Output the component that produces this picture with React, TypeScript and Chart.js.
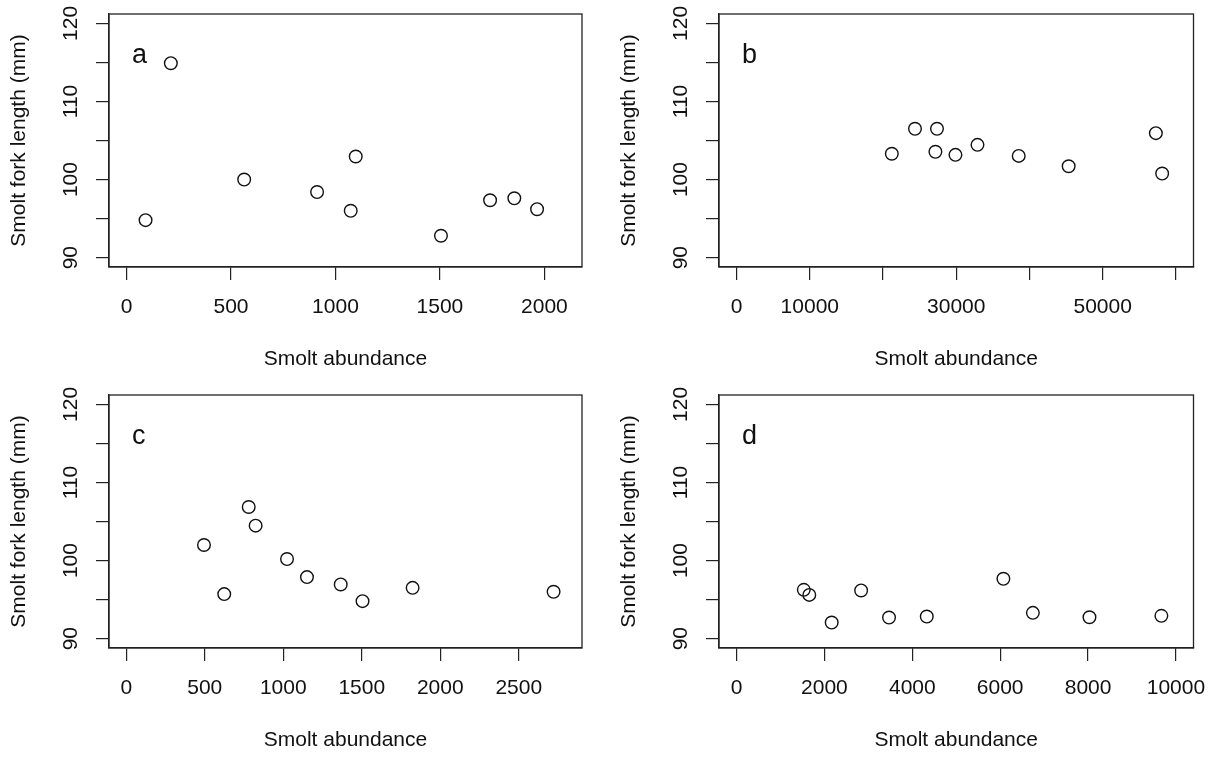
import React, { useEffect, useRef } from "react";
import { Chart, registerables } from "chart.js";

Chart.register(...registerables);

// ---- Data ----
const abundanceA = [91, 212, 563, 912, 1073, 1097, 1505, 1740, 1856, 1965];
const lengthA = [94.8, 114.9, 100.0, 98.4, 96.0, 102.95, 92.8, 97.35, 97.6, 96.2];

const abundanceB = [21200, 24365, 27370, 27155, 29890, 32900, 38530, 45350, 57260, 58120];
const lengthB = [103.3, 106.5, 106.5, 103.55, 103.16, 104.44, 103.03, 101.7, 105.94, 100.77];

const abundanceC = [495, 624, 780, 824, 1024, 1151, 1366, 1505, 1824, 2722];
const lengthC = [101.99, 95.7, 106.86, 104.47, 100.19, 97.88, 96.94, 94.8, 96.5, 96.0];

const abundanceD = [1530, 1655, 2165, 2835, 3470, 4329, 6073, 6744, 8032, 9669];
const lengthD = [96.25, 95.6, 92.06, 96.17, 92.7, 92.83, 97.66, 93.3, 92.74, 92.92];

const xTicksA = [0, 500, 1000, 1500, 2000];
const xTickLabelsA = ["0", "500", "1000", "1500", "2000"];
const xTicksB = [0, 10000, 20000, 30000, 40000, 50000, 60000];
const xTickLabelsB = ["0", "10000", "", "30000", "", "50000", ""];
const xTicksC = [0, 500, 1000, 1500, 2000, 2500];
const xTickLabelsC = ["0", "500", "1000", "1500", "2000", "2500"];
const xTicksD = [0, 2000, 4000, 6000, 8000, 10000];
const xTickLabelsD = ["0", "2000", "4000", "6000", "8000", "10000"];

const yTicks = [90, 95, 100, 105, 110, 115, 120];
const yTickLabels = [90, 100, 110, 120];

const panelLetters = ["a", "b", "c", "d"];
const xTitle = "Smolt abundance";
const yTitle = "Smolt fork length (mm)";

const FONT = "'Liberation Sans', Arial, Helvetica, sans-serif";
const INK = "#111";
const BOX = "#222";

type Panel = {
  letter: string;
  xs: number[];
  ys: number[];
  xMin: number;
  xMax: number;
  xTicks: number[];
  xLabels: string[];
  left: number;
  top: number;
  width: number;
  height: number;
  padTop: number;
  padRight: number;
};

const panels: Panel[] = [
  { letter: panelLetters[0], xs: abundanceA, ys: lengthA, xMin: -84, xMax: 2180, xTicks: xTicksA, xLabels: xTickLabelsA, left: 0, top: 0, width: 607, height: 380, padTop: 14, padRight: 25 },
  { letter: panelLetters[1], xs: abundanceB, ys: lengthB, xMin: -2400, xMax: 62400, xTicks: xTicksB, xLabels: xTickLabelsB, left: 610, top: 0, width: 605, height: 380, padTop: 14, padRight: 21.5 },
  { letter: panelLetters[2], xs: abundanceC, ys: lengthC, xMin: -110, xMax: 2903, xTicks: xTicksC, xLabels: xTickLabelsC, left: 0, top: 380, width: 607, height: 381, padTop: 15, padRight: 25 },
  { letter: panelLetters[3], xs: abundanceD, ys: lengthD, xMin: -400, xMax: 10400, xTicks: xTicksD, xLabels: xTickLabelsD, left: 610, top: 380, width: 605, height: 381, padTop: 15, padRight: 21.5 },
];

function PanelChart({ p }: { p: Panel }) {
  const ref = useRef<HTMLCanvasElement | null>(null);
  useEffect(() => {
    if (!ref.current) return;
    const decor = {
      id: "rdecor",
      afterDraw(chart: any) {
        const { ctx, chartArea } = chart;
        const ys = chart.scales.y;
        ctx.save();
        ctx.strokeStyle = BOX;
        ctx.lineWidth = 1.3;
        ctx.strokeRect(chartArea.left, chartArea.top, chartArea.right - chartArea.left, chartArea.bottom - chartArea.top);
        ctx.fillStyle = INK;
        ctx.font = `21px ${FONT}`;
        ctx.textAlign = "center";
        ctx.textBaseline = "middle";
        for (const v of yTickLabels) {
          const y = ys.getPixelForValue(v);
          ctx.save();
          ctx.translate(chartArea.left - 38, y);
          ctx.rotate(-Math.PI / 2);
          ctx.fillText(String(v), 0, 0);
          ctx.restore();
        }
        ctx.font = `27px ${FONT}`;
        ctx.textAlign = "left";
        ctx.textBaseline = "alphabetic";
        ctx.fillText(p.letter, chartArea.left + 23, chartArea.top + 49);
        ctx.restore();
      },
    };
    const chart = new Chart(ref.current, {
      type: "scatter",
      data: {
        datasets: [
          {
            data: p.xs.map((x, i) => ({ x, y: p.ys[i] })),
            pointStyle: "circle",
            pointRadius: 6.3,
            pointHoverRadius: 6.3,
            borderWidth: 1.4,
            borderColor: INK,
            backgroundColor: "rgba(0,0,0,0)",
          },
        ],
      },
      options: {
        animation: false,
        responsive: false,
        events: [],
        layout: { padding: { left: 0, top: p.padTop, right: p.padRight, bottom: 0 } },
        plugins: { legend: { display: false }, tooltip: { enabled: false }, title: { display: false } },
        scales: {
          x: {
            type: "linear",
            min: p.xMin,
            max: p.xMax,
            afterBuildTicks: (s: any) => {
              s.ticks = p.xTicks.map((v) => ({ value: v }));
            },
            afterFit: (s: any) => {
              s.height = 113;
              s.paddingLeft = 0;
              s.paddingRight = 0;
            },
            ticks: {
              autoSkip: false,
              maxRotation: 0,
              minRotation: 0,
              padding: 15,
              color: INK,
              font: { family: FONT, size: 21 },
              callback: (v: any) => {
                const i = p.xTicks.indexOf(Number(v));
                return i >= 0 ? p.xLabels[i] : "";
              },
            },
            grid: { display: true, drawOnChartArea: false, drawTicks: true, tickLength: 13, color: BOX, lineWidth: 1.2 },
            border: { display: true, color: BOX, width: 1.3 },
            title: { display: true, text: xTitle, color: INK, font: { family: FONT, size: 21 }, padding: { top: 0, bottom: 8 } },
          },
          y: {
            type: "linear",
            min: 88.8,
            max: 121.2,
            afterBuildTicks: (s: any) => {
              s.ticks = yTicks.map((v) => ({ value: v }));
            },
            afterFit: (s: any) => {
              s.width = 109;
              s.paddingTop = 0;
              s.paddingBottom = 0;
            },
            ticks: { display: false },
            grid: { display: true, drawOnChartArea: false, drawTicks: true, tickLength: 13, color: BOX, lineWidth: 1.2 },
            border: { display: true, color: BOX, width: 1.3 },
            title: { display: true, text: yTitle, color: INK, font: { family: FONT, size: 21 }, padding: { top: 6.5, bottom: 0 } },
          },
        },
      },
      plugins: [decor],
    } as any);
    return () => chart.destroy();
  }, [p]);
  return (
    <canvas
      ref={ref}
      width={p.width}
      height={p.height}
      style={{ position: "absolute", left: p.left, top: p.top, width: p.width, height: p.height, display: "block" }}
    />
  );
}

export default function App() {
  return (
    <div style={{ position: "absolute", left: 0, top: 0, width: 1215, height: 761, background: "#fff", overflow: "hidden" }}>
      {panels.map((p) => (
        <PanelChart key={p.letter} p={p} />
      ))}
    </div>
  );
}
